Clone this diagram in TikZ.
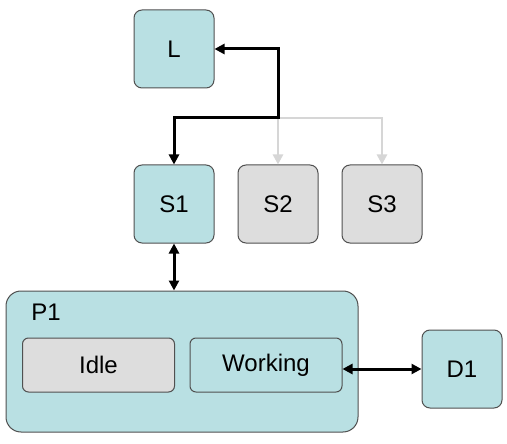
\documentclass[tikz,border=0pt]{standalone}
\usepackage{fontspec}
\setmainfont{Liberation Sans}
\usetikzlibrary{arrows.meta, positioning, calc}
\definecolor{boxteal}{RGB}{185,224,227}
\definecolor{boxgray}{RGB}{221,221,221}
\definecolor{edgegray}{RGB}{80,80,80}
\definecolor{linkgray}{RGB}{214,214,214}

\begin{document}
\begin{tikzpicture}[
    x=1pt, y=-1pt,
    unit/.style={draw=edgegray, line width=1pt, rounded corners=8pt, fill=boxteal,
                 minimum width=80pt, minimum height=78pt, inner sep=0pt,
                 font=\fontsize{24}{28}\selectfont},
    idleunit/.style={unit, fill=boxgray},
    state/.style={unit, minimum width=152pt, minimum height=54pt, rounded corners=6pt},
    idlestate/.style={state, fill=boxgray},
    proc/.style={draw=edgegray, line width=1pt, rounded corners=15pt, fill=boxteal,
                 minimum width=352pt, minimum height=141pt, inner sep=0pt},
    lbl/.style={font=\fontsize{24}{28}\selectfont, inner sep=0pt},
    arr/.style={{Triangle[length=10pt,width=10pt]}-{Triangle[length=10pt,width=10pt]}, line width=3pt},
    garr/.style={-{Triangle[length=10pt,width=10pt]}, line width=2.5pt, color=linkgray},
  ]
    \useasboundingbox (0,0) rectangle (507,444);

    \node[unit]     (L)  at (174,49)  {L};
    \node[unit]     (S1) at (174,204) {S1};
    \node[idleunit] (S2) at (278,204) {S2};
    \node[idleunit] (S3) at (382,204) {S3};

    \node[proc] (P1) at (182,361.5) {};
    \node[lbl]  (p1name) at (46,312) {P1};
    \node[idlestate] (idle) at (98.5,365)  {Idle};
    \node[state]     (work) at (266,365)   {Working};
    \node[unit]      (D1)   at (462,369)   {D1};

    \coordinate (jn) at (278,118);

    % spare links first, active link on top
    \draw[garr] (jn) -- (S2.north);
    \draw[garr] (jn) -| (S3.north);
    \draw[arr] (S1.north) |- (jn) |- (L.east);

    \draw[arr] (S1.south) -- (S1.south |- P1.north);
    \draw[arr] (work.east |- D1.west) -- (D1.west);
\end{tikzpicture}
\end{document}
